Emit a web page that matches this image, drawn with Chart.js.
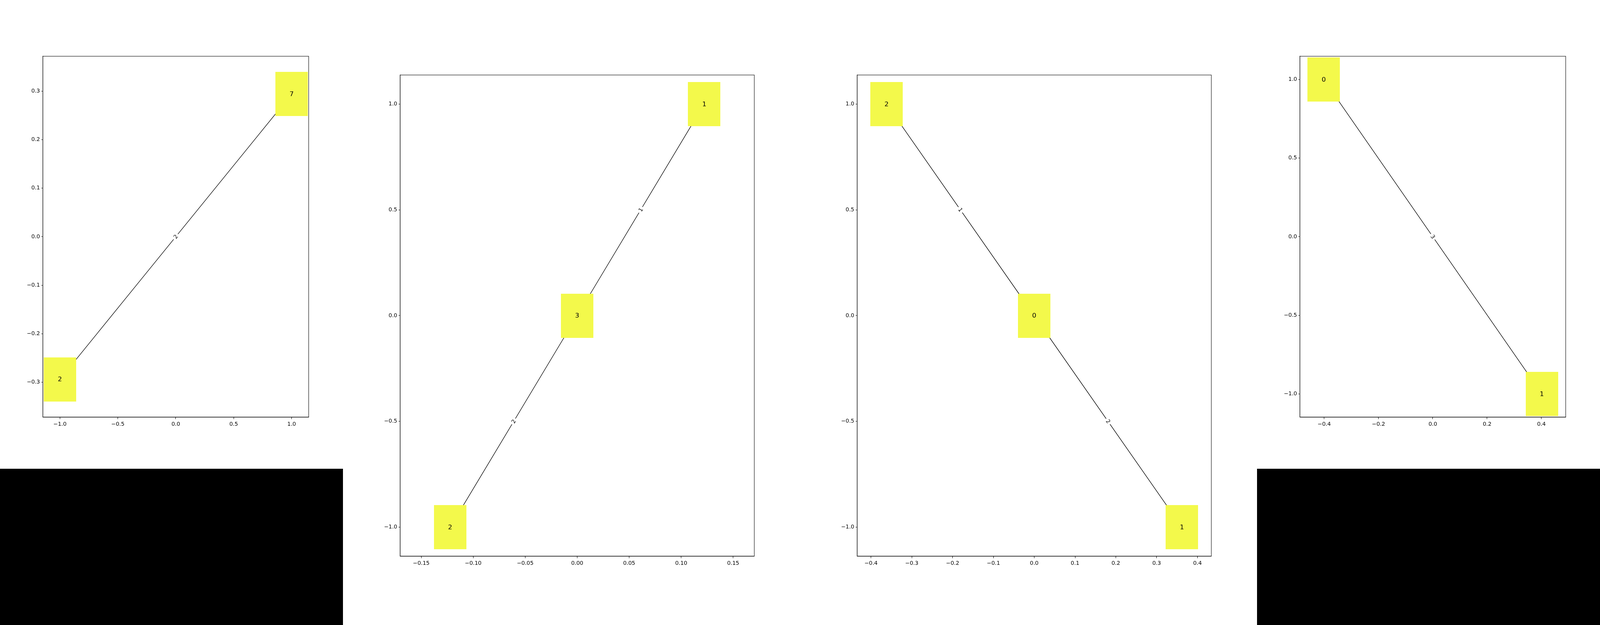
<!DOCTYPE html>
<html>
<head>
<meta charset="utf-8">
<script src="https://cdn.jsdelivr.net/npm/chart.js@4.4.1/dist/chart.umd.min.js"></script>
<style>
  html, body { margin: 0; padding: 0; background: #fff; overflow: hidden; }
  #wrap { position: relative; background: #fff; overflow: hidden; }
  .panel { position: absolute; top: 0; }
  .pad { position: absolute; background: #000; }
</style>
</head>
<body>
<div id="wrap"></div>
<script>
// graph 1
const g1Nodes = ['2', '7'];
const g1X = [-1.0, 1.0];
const g1Y = [-0.294, 0.294];
const g1Edges = [[0, 1]];
const g1EdgeLabels = ['2'];
const g1XTicks = [-1.0, -0.5, 0.0, 0.5, 1.0];
const g1YTicks = [-0.3, -0.2, -0.1, 0.0, 0.1, 0.2, 0.3];

// graph 2
const g2Nodes = ['2', '3', '1'];
const g2X = [-0.1222, 0.0, 0.1222];
const g2Y = [-1.0, 0.0, 1.0];
const g2Edges = [[0, 1], [1, 2]];
const g2EdgeLabels = ['2', '1'];
const g2XTicks = [-0.15, -0.10, -0.05, 0.0, 0.05, 0.10, 0.15];
const g2YTicks = [-1.0, -0.5, 0.0, 0.5, 1.0];

// graph 3
const g3Nodes = ['2', '0', '1'];
const g3X = [-0.362, 0.0, 0.362];
const g3Y = [1.0, 0.0, -1.0];
const g3Edges = [[0, 1], [1, 2]];
const g3EdgeLabels = ['1', '2'];
const g3XTicks = [-0.4, -0.3, -0.2, -0.1, 0.0, 0.1, 0.2, 0.3, 0.4];
const g3YTicks = [-1.0, -0.5, 0.0, 0.5, 1.0];

// graph 4
const g4Nodes = ['0', '1'];
const g4X = [-0.4017, 0.4017];
const g4Y = [1.0, -1.0];
const g4Edges = [[0, 1]];
const g4EdgeLabels = ['3'];
const g4XTicks = [-0.4, -0.2, 0.0, 0.2, 0.4];
const g4YTicks = [-1.0, -0.5, 0.0, 0.5, 1.0];

const FONT = '"DejaVu Sans", sans-serif';
const NODE_COLOR = '#f3f94b';

// the window can be narrower than the 5600x1600 figure, so squeeze the layout to fit it
const SX = Math.min(1, window.innerWidth / 5600);
const SY = Math.min(1, window.innerHeight / 1600);
const wrap = document.getElementById('wrap');
wrap.style.width = Math.round(5600 * SX) + 'px';
wrap.style.height = Math.round(1600 * SY) + 'px';

function fmt(v, dec) {
    return v.toFixed(dec).replace('-', '\u2212');
}

function nodeImage() {
    const c = document.createElement('canvas');
    c.width = Math.round(113 * SX);
    c.height = Math.round(113 * SY);
    const cx = c.getContext('2d');
    cx.fillStyle = NODE_COLOR;
    cx.fillRect(0, 0, c.width, c.height);
    return c;
}

// node names, edge labels and the top/right spines
const graphDeco = {
    id: 'graphDeco',
    afterDatasetsDraw(chart) {
        const g = chart.options.plugins.graphDeco;
        const ctx = chart.ctx;
        const a = chart.chartArea;
        const sx = chart.scales.x, sy = chart.scales.y;
        ctx.save();

        ctx.font = '13.9px ' + FONT;
        ctx.textAlign = 'center';
        ctx.textBaseline = 'middle';
        g.edges.forEach(function(e, i) {
            const x0 = sx.getPixelForValue(g.xs[e[0]]), y0 = sy.getPixelForValue(g.ys[e[0]]);
            const x1 = sx.getPixelForValue(g.xs[e[1]]), y1 = sy.getPixelForValue(g.ys[e[1]]);
            let ang = Math.atan2(y1 - y0, x1 - x0);
            if (ang > Math.PI / 2) ang -= Math.PI;
            if (ang < -Math.PI / 2) ang += Math.PI;
            const txt = g.edgeLabels[i];
            const w = ctx.measureText(txt).width;
            const pad = 4.2, h = 16;
            ctx.save();
            ctx.translate((x0 + x1) / 2, (y0 + y1) / 2);
            ctx.rotate(ang);
            ctx.fillStyle = '#fff';
            ctx.beginPath();
            if (ctx.roundRect) ctx.roundRect(-w / 2 - pad, -h / 2 - pad, w + 2 * pad, h + 2 * pad, 4);
            else ctx.rect(-w / 2 - pad, -h / 2 - pad, w + 2 * pad, h + 2 * pad);
            ctx.fill();
            ctx.fillStyle = '#000';
            ctx.fillText(txt, 0, 1);
            ctx.restore();
        });

        ctx.font = '16.7px ' + FONT;
        ctx.fillStyle = '#000';
        g.nodes.forEach(function(n, i) {
            ctx.fillText(n, sx.getPixelForValue(g.xs[i]), sy.getPixelForValue(g.ys[i]) + 1);
        });

        ctx.strokeStyle = '#000';
        ctx.lineWidth = 1.1;
        ctx.strokeRect(a.left, a.top, a.right - a.left, a.bottom - a.top);
        ctx.restore();
    }
};

function axis(ticks, dec, min, max, fitSize, tickLen) {
    return {
        type: 'linear',
        min: min,
        max: max,
        border: { display: true, color: '#000', width: 1.1 },
        grid: {
            display: true,
            drawOnChartArea: false,
            drawTicks: true,
            tickLength: tickLen,
            color: '#000',
            lineWidth: 1.1
        },
        ticks: {
            autoSkip: false,
            maxRotation: 0,
            padding: tickLen,
            color: '#000',
            font: { family: FONT, size: 13.9 },
            callback: function(value) { return fmt(value, dec); }
        },
        afterBuildTicks: function(scale) {
            scale.ticks = ticks.map(function(v) { return { value: v }; });
        },
        afterFit: function(scale) {
            if (scale.isHorizontal()) scale.height = fitSize;
            else scale.width = fitSize;
        }
    };
}

// left: panel offset in the figure, size: panel edge in figure pixels (matplotlib figure at 100 dpi)
function drawGraph(left, size, nodes, xs, ys, edges, edgeLabels, xTicks, yTicks, xDec, yDec, xLim, yLim) {
    const w = Math.round(size * SX), h = Math.round(size * SY);
    const box = document.createElement('div');
    box.className = 'panel';
    box.style.left = Math.round(left * SX) + 'px';
    const canvas = document.createElement('canvas');
    canvas.width = w;
    canvas.height = h;
    canvas.style.width = w + 'px';
    canvas.style.height = h + 'px';
    box.appendChild(canvas);
    wrap.appendChild(box);
    if (size < 1600) {
        const pad = document.createElement('div');
        pad.className = 'pad';
        pad.style.left = Math.round(left * SX) + 'px';
        pad.style.top = h + 'px';
        pad.style.width = w + 'px';
        pad.style.height = (Math.round(1600 * SY) - h) + 'px';
        wrap.appendChild(pad);
    }

    const datasets = [{
        data: xs.map(function(v, i) { return { x: v, y: ys[i] }; }),
        pointStyle: nodeImage(),
        pointRadius: 40,
        pointHoverRadius: 40,
        showLine: false,
        clip: false
    }];
    edges.forEach(function(e) {
        datasets.push({
            data: [{ x: xs[e[0]], y: ys[e[0]] }, { x: xs[e[1]], y: ys[e[1]] }],
            showLine: true,
            borderColor: '#000',
            borderWidth: 1.4,
            pointRadius: 0,
            clip: false
        });
    });
    new Chart(canvas, {
        type: 'scatter',
        data: { datasets: datasets },
        options: {
            responsive: false,
            animation: false,
            devicePixelRatio: 1,
            events: [],
            layout: { padding: { left: 0, right: 0.1 * w, top: 0.12 * h, bottom: 0 } },
            plugins: {
                legend: { display: false },
                tooltip: { enabled: false },
                graphDeco: { nodes: nodes, xs: xs, ys: ys, edges: edges, edgeLabels: edgeLabels }
            },
            scales: {
                x: axis(xTicks, xDec, -xLim, xLim, 0.11 * h, 5 * SY),
                y: axis(yTicks, yDec, -yLim, yLim, 0.125 * w, 5 * SX)
            }
        },
        plugins: [graphDeco]
    });
}

drawGraph(0, 1200, g1Nodes, g1X, g1Y, g1Edges, g1EdgeLabels, g1XTicks, g1YTicks, 1, 1, 1.147, 0.372);
drawGraph(1200, 1600, g2Nodes, g2X, g2Y, g2Edges, g2EdgeLabels, g2XTicks, g2YTicks, 2, 1, 0.1703, 1.137);
drawGraph(2800, 1600, g3Nodes, g3X, g3Y, g3Edges, g3EdgeLabels, g3XTicks, g3YTicks, 1, 1, 0.434, 1.137);
drawGraph(4400, 1200, g4Nodes, g4X, g4Y, g4Edges, g4EdgeLabels, g4XTicks, g4YTicks, 1, 1, 0.4895, 1.148);
</script>
</body>
</html>
